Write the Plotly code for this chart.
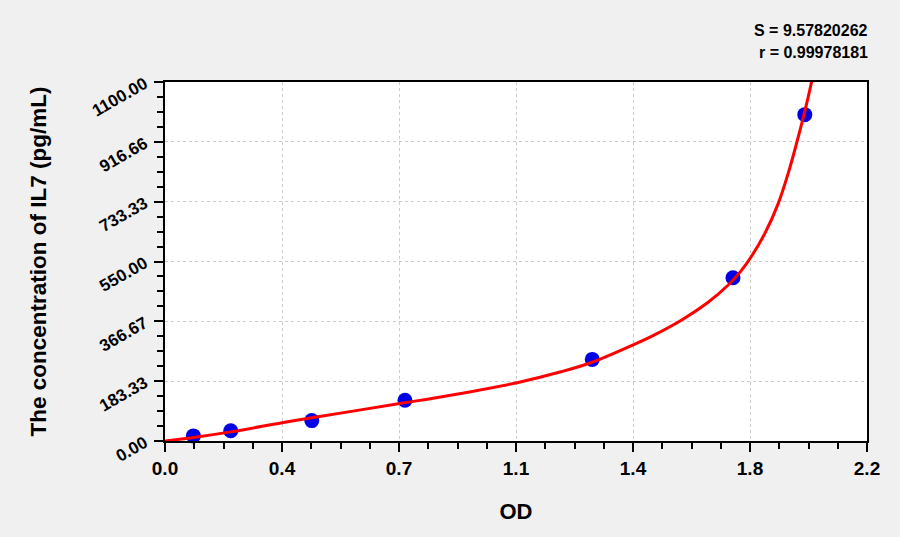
import plotly.graph_objects as go

# standard points (OD vs concentration)
od = [0.089, 0.206, 0.460, 0.752, 1.339, 1.780, 2.005]
conc = [15.6, 31.25, 62.5, 125, 250, 500, 1000]

# fitted curve
curve_od = [0.0, 0.09, 0.206, 0.367, 0.46, 0.75, 0.864, 1.10, 1.241, 1.341,
            1.469, 1.534, 1.618, 1.702, 1.765, 1.806, 1.838, 1.880, 1.922,
            1.953, 1.979, 2.000, 2.016, 2.035]
curve_conc = [0, 11, 28, 56, 71, 117, 135, 178, 212, 242,
              295, 325, 370, 425, 478, 522, 566, 636, 728,
              820, 911, 990, 1055, 1140]

x_ticks = ["0.0", "0.4", "0.7", "1.1", "1.4", "1.8", "2.2"]
y_ticks = ["0.00", "183.33", "366.67", "550.00", "733.33", "916.66", "1100.00"]

x_max = 2.2
y_max = 1100.0
fnt = "Liberation Sans, Arial, sans-serif"
narrow = "Liberation Sans Narrow, Arial Narrow, " + fnt

fig = go.Figure()
fig.add_trace(go.Scatter(x=od, y=conc, mode="markers",
                         marker=dict(size=15, color="#0000e6", line=dict(width=0)),
                         cliponaxis=False))
fig.add_trace(go.Scatter(x=curve_od, y=curve_conc, mode="lines",
                         line=dict(color="#ff0000", width=3, shape="spline", smoothing=1.0),
                         cliponaxis=False))

fig.update_layout(
    width=900, height=537,
    paper_bgcolor="#f0f0f0", plot_bgcolor="white",
    margin=dict(l=165, r=33, t=82, b=96),
    showlegend=False,
    font=dict(family=fnt, color="black"),
    annotations=[
        dict(text="<b>S = 9.57820262</b>", xref="paper", yref="paper", x=1.0, y=1.0,
             xanchor="right", yanchor="middle", yshift=52, xshift=3, showarrow=False,
             font=dict(size=16, family=fnt)),
        dict(text="<b>r = 0.99978181</b>", xref="paper", yref="paper", x=1.0, y=1.0,
             xanchor="right", yanchor="middle", yshift=30, xshift=3, showarrow=False,
             font=dict(size=16, family=fnt)),
    ],
)

fig.update_xaxes(
    range=[0, x_max],
    tickmode="array",
    tickvals=[i * x_max / 6 for i in range(7)],
    ticktext=["<b>%s</b>" % t for t in x_ticks],
    tickfont=dict(size=19, family=narrow),
    ticks="outside", ticklen=9, tickwidth=2, tickcolor="black",
    minor=dict(tickmode="linear", tick0=0, dtick=x_max / 24, ticks="outside",
               ticklen=6, tickwidth=2, tickcolor="black", showgrid=False),
    showline=True, linewidth=2, linecolor="black", mirror=True,
    showgrid=True, gridcolor="#cccccc", griddash="dot", gridwidth=1,
    zeroline=False,
    title=dict(text="<b>OD</b>", font=dict(size=22, family=fnt), standoff=26),
)

fig.update_yaxes(
    range=[0, y_max],
    tickmode="array",
    tickvals=[i * y_max / 6 for i in range(7)],
    ticktext=["<b>%s</b>" % t for t in y_ticks],
    tickangle=-30,
    tickfont=dict(size=17, family=fnt),
    ticklabelstandoff=6,
    ticks="outside", ticklen=9, tickwidth=2, tickcolor="black",
    minor=dict(tickmode="linear", tick0=0, dtick=y_max / 24, ticks="outside",
               ticklen=6, tickwidth=2, tickcolor="black", showgrid=False),
    showline=True, linewidth=2, linecolor="black", mirror=True,
    showgrid=True, gridcolor="#cccccc", griddash="dot", gridwidth=1,
    zeroline=False,
    title=dict(text="<b>The concentration of IL7 (pg/mL)</b>",
               font=dict(size=22.5, family=fnt), standoff=36),
)

# drop the page margin so the figure sits flush in the window
fig.write_html("out.html", config={"displayModeBar": False},
               post_script="document.body.style.margin='0';")
